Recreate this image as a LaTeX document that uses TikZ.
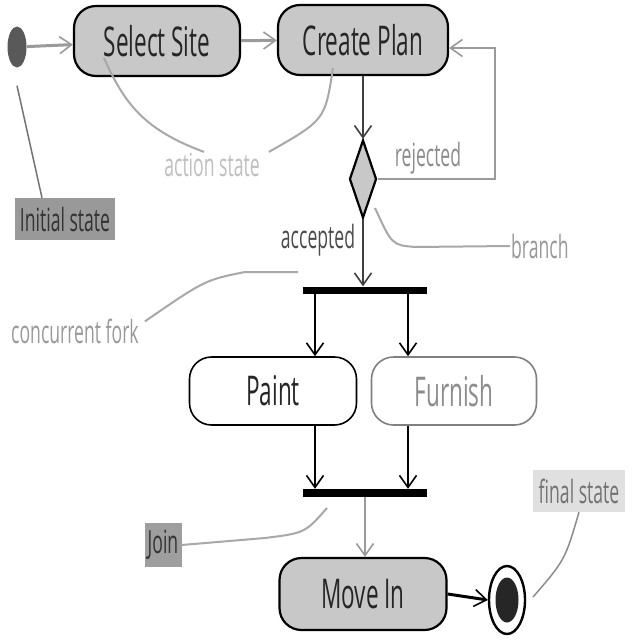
\documentclass[tikz,border=0pt]{standalone}
\usepackage{fontspec}
\setmainfont{Open Sans}[FakeStretch=0.55]
\usetikzlibrary{arrows.meta,shapes.geometric,calc}
\definecolor{boxgray}{HTML}{C8C8C8}
\definecolor{linegray}{HTML}{9A9A9A}
\definecolor{anngray}{HTML}{A8A8A8}
\tikzset{
  act/.style={draw=black, line width=2.2pt, rounded corners=22pt, minimum height=70pt, inner sep=0pt, font=\fontsize{41}{43}\selectfont, text=black!85},
  barnode/.style={fill=black, minimum width=124pt, minimum height=7pt, inner sep=0pt},
  tip/.style={-{Straight Barb[length=12pt,width=17pt,line width=1.6pt]}},
  flow/.style={tip, line width=2.4pt, draw=black!75},
  flowgray/.style={tip, line width=3pt, draw=linegray},
  ann/.style={draw=anngray, line width=2pt},
  anntext/.style={font=\fontsize{32}{34}\selectfont, inner sep=1pt}
}
\begin{document}
\begin{tikzpicture}[x=1pt,y=-1pt]
\useasboundingbox (0,0) rectangle (640,640);
\fill[white] (0,0) rectangle (640,640);

% action nodes
\node[act, fill=boxgray, minimum width=166pt] (sel) at (157,41) {Select Site};
\node[act, fill=boxgray, minimum width=170pt] (plan) at (363,40) {Create Plan};
\node[draw=black, line width=2.2pt, diamond, minimum width=27pt, minimum height=78pt, inner sep=0pt, fill=boxgray] (br) at (363,179) {};
\node[barnode] (fork) at (365,290) {};
\node[act, fill=white, line width=1.6pt, minimum width=167pt, minimum height=68pt] (paint) at (273,391) {Paint};
\node[act, fill=white, draw=black!50, line width=1.6pt, minimum width=165pt, minimum height=68pt, text=black!45] (furn) at (454,391) {Furnish};
\node[barnode, minimum height=8pt] (join) at (365,493) {};
\node[act, fill=boxgray, minimum width=167pt, minimum height=72pt] (move) at (363,594) {Move In};

% initial and final states
\node[ellipse, fill=black!65, minimum width=19pt, minimum height=41pt, inner sep=0pt] (ini) at (17,47) {};
\node[ellipse, draw=black, line width=2.4pt, fill=white, minimum width=36pt, minimum height=68pt, inner sep=0pt] (fin) at (507,600) {};
\node[ellipse, fill=black!85, minimum width=23pt, minimum height=45pt, inner sep=0pt] (fincore) at (fin) {};

% flows
\draw[flowgray] (ini) -- (sel);
\draw[flowgray] (sel) -- (plan);
\draw[flow] (plan.south) -- (br.north);
\coordinate (rc) at (495,48);
\draw[tip, draw=linegray, line width=2pt] (br.east) -| (rc) -- (rc -| plan.east);
\draw[flow] (br.south) -- (br.south |- fork.north);
\draw[flow, draw=black] ([xshift=-50pt]fork.south) -- ([xshift=-50pt]fork.south |- paint.north);
\draw[flow, draw=black] ([xshift=43pt]fork.south) -- ([xshift=43pt]fork.south |- furn.north);
\draw[flow, draw=black] ([xshift=-50pt]fork.south |- paint.south) -- ([xshift=-50pt]join.north);
\draw[flow, draw=black] ([xshift=43pt]fork.south |- furn.south) -- ([xshift=43pt]join.north);
\draw[tip, draw=linegray, line width=2pt] (join.south) -- (join.south |- move.north);
\draw[flow, draw=black, line width=3pt] (move.east) -- (fin.west);

% guard labels
\node[anntext, text=black!45] (rej) at (428,158) {rejected};
\node[anntext, text=black!70] (acc) at (318,240) {accepted};

% annotations
\node[anntext, text=black!25] (actlbl) at (212,165) {action state};
\node[anntext, text=black!80, fill=black!40, minimum width=100pt, minimum height=42pt] (inilbl) at (65,219) {Initial state};
\node[anntext, text=black!40, anchor=west] (brlbl) at (510,246) {branch};
\node[anntext, text=black!40, anchor=west] (forklbl) at (10,331) {concurrent fork};
\node[anntext, text=black!80, fill=black!38, minimum width=37pt, minimum height=44pt] (joinlbl) at (163,545) {Join};
\node[anntext, text=black!55, fill=black!12, minimum width=92pt, minimum height=42pt] (finlbl) at (579,491) {final state};

\coordinate (a1) at (104,58);
\coordinate (a2) at (333,68);
\draw[ann] (a1) .. controls (125,105) and (145,130) .. ([xshift=-8pt]actlbl.north);
\draw[ann] (a2) .. controls (325,120) .. ([xshift=8pt]actlbl.north east);
\draw[ann, draw=black!55, line width=1.5pt] ([yshift=-18pt]ini.south) -- ([xshift=-23pt]inilbl.north);
\coordinate (b1) at (375,208);
\draw[ann] (b1) .. controls (392,245) .. (415,247) -- (brlbl.west);
\coordinate (f1) at (298,272);
\draw[ann] (f1) -- (245,272) .. controls (205,280) .. ([xshift=5pt,yshift=-4pt]forklbl.north east);
\coordinate (j1) at (327,508);
\draw[ann] (joinlbl.east) -- (265,538) .. controls (305,533) .. (j1);
\coordinate (fs) at (533,597);
\draw[ann, draw=black!45, line width=1.5pt] (finlbl.south) .. controls (565,560) .. (fs);
\end{tikzpicture}
\end{document}
